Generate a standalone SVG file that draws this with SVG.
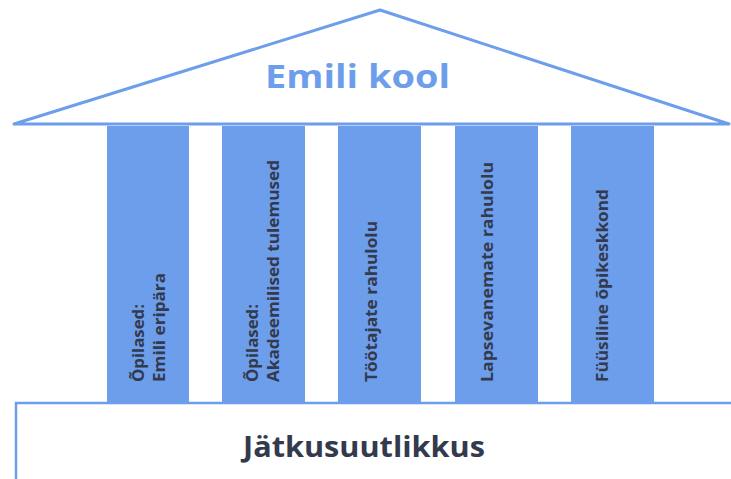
<svg xmlns="http://www.w3.org/2000/svg" width="731" height="479" viewBox="0 0 731 479">
  <style>
    .col { fill: #6d9eeb; }
    .ct { font-family: "Open Sans", "DejaVu Sans", sans-serif; font-weight: 700; font-size: 16px; fill: #333a4d; }
    .title { font-family: "Open Sans", "DejaVu Sans", sans-serif; font-weight: 700; font-size: 32px; fill: #6d9eeb; }
    .base { font-family: "Open Sans", "DejaVu Sans", sans-serif; font-weight: 700; font-size: 29px; fill: #333a4d; }
  </style>
  <rect width="731" height="479" fill="#ffffff"/>
  <g id="roof">
    <polygon points="14,124 380,10 729,124" fill="#ffffff" stroke="#6d9eeb" stroke-width="3" stroke-linejoin="round"/>
    <text class="title" x="265" y="88" textLength="185" lengthAdjust="spacingAndGlyphs">Emili kool</text>
  </g>
  <g id="col1">
    <rect class="col" x="107" y="126" width="82" height="276"/>
    <text class="ct" transform="translate(144,382) rotate(-90)"><tspan x="0" y="0" textLength="78" lengthAdjust="spacingAndGlyphs">Õpilased:</tspan><tspan x="0" y="20.5" textLength="109" lengthAdjust="spacingAndGlyphs">Emili eripära</tspan></text>
  </g>
  <g id="col2">
    <rect class="col" x="222" y="126" width="83" height="276"/>
    <text class="ct" transform="translate(258,382) rotate(-90)"><tspan x="0" y="0" textLength="78" lengthAdjust="spacingAndGlyphs">Õpilased:</tspan><tspan x="0" y="20.5" textLength="222" lengthAdjust="spacingAndGlyphs">Akadeemilised tulemused</tspan></text>
  </g>
  <g id="col3">
    <rect class="col" x="338" y="126" width="83" height="276"/>
    <text class="ct" transform="translate(377,382) rotate(-90)" textLength="161" lengthAdjust="spacingAndGlyphs">Töötajate rahulolu</text>
  </g>
  <g id="col4">
    <rect class="col" x="455" y="126" width="83" height="276"/>
    <text class="ct" transform="translate(493,382) rotate(-90)" textLength="220" lengthAdjust="spacingAndGlyphs">Lapsevanemate rahulolu</text>
  </g>
  <g id="col5">
    <rect class="col" x="571" y="126" width="83" height="276"/>
    <text class="ct" transform="translate(608,382) rotate(-90)" textLength="193" lengthAdjust="spacingAndGlyphs">Füüsiline õpikeskkond</text>
  </g>
  <g id="foundation">
    <rect x="16" y="403" width="730" height="90" fill="#ffffff" stroke="#6d9eeb" stroke-width="2.5"/>
    <text class="base" x="243" y="457" textLength="242" lengthAdjust="spacingAndGlyphs">Jätkusuutlikkus</text>
  </g>
  <g id="connectors"/>
</svg>
